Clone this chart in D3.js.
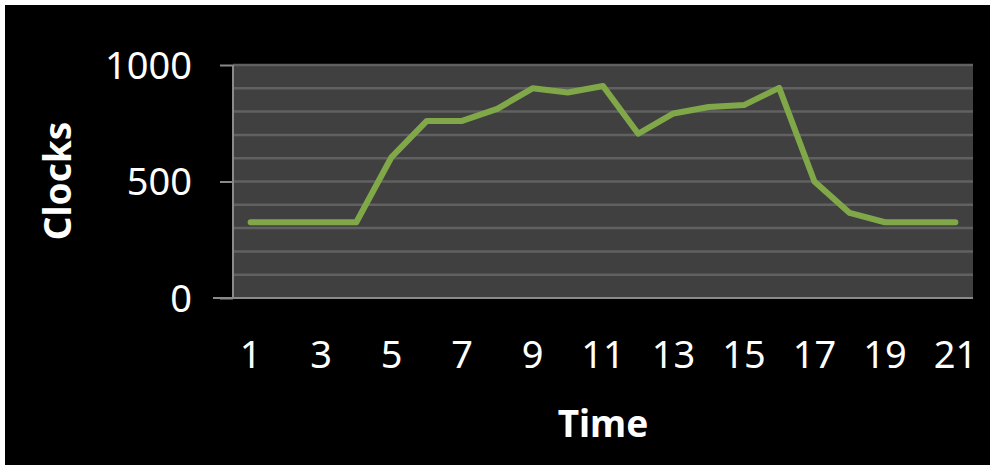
<!DOCTYPE html>
<html>
<head>
<meta charset="utf-8">
<script src="https://cdn.jsdelivr.net/npm/d3@7"></script>
<style>
  html, body { margin: 0; padding: 0; background: #fff; }
  svg { display: block; }
</style>
</head>
<body>
<svg id="chart"></svg>
<script>
// data
let times = d3.range(1, 22);
let clocks = [325, 325, 325, 325, 605, 760, 760, 812, 900, 882, 910, 705,
              792, 820, 828, 902, 500, 365, 325, 325, 325];
let xTickLabels = [1, 3, 5, 7, 9, 11, 13, 15, 17, 19, 21];
let yTickLabels = [0, 500, 1000];
let gridValues = d3.range(0, 1001, 100);

let svgWidth = 990, svgHeight = 465;
let margin = { top: 65, right: 17, bottom: 167, left: 233 };
let width = svgWidth - margin.left - margin.right;
let height = svgHeight - margin.top - margin.bottom;

let svg = d3.select('#chart')
    .attr('width', svgWidth)
    .attr('height', svgHeight);

// black card with a thin white edge on the top/left
svg.append('rect')
    .attr('x', 5).attr('y', 5)
    .attr('width', svgWidth - 5).attr('height', svgHeight - 5)
    .attr('fill', '#000');

let g = svg.append('g')
    .attr('transform', 'translate(' + margin.left + ',' + margin.top + ')');

let x = d3.scaleBand().domain(times).range([0, width]);
let y = d3.scaleLinear().domain([0, 1000]).range([height, 0]);

g.append('rect')
    .attr('width', width)
    .attr('height', height)
    .attr('fill', '#404040');

// gridlines
g.selectAll('.grid')
    .data(gridValues.slice(1))
    .enter()
    .append('line')
    .attr('x1', 0).attr('x2', width)
    .attr('y1', d => y(d)).attr('y2', d => y(d))
    .attr('stroke', '#616161')
    .attr('stroke-width', 2.5);

// y axis
let yAxis = g.append('g')
    .call(d3.axisLeft(y).tickValues(yTickLabels).tickFormat(d3.format('d'))
        .tickSize(13).tickPadding(28));
yAxis.select('.domain').attr('stroke', '#8a8a8a').attr('stroke-width', 2)
    .attr('d', 'M0,0V' + height);
yAxis.selectAll('.tick line').attr('stroke', '#8a8a8a').attr('stroke-width', 2);
yAxis.selectAll('text')
    .attr('fill', '#fff')
    .style('font-family', '"Noto Sans", sans-serif')
    .style('font-size', '38px')
    .attr('dy', '0.35em');

// x axis (no ticks, just the base line and labels)
let xAxis = g.append('g')
    .attr('transform', 'translate(0,' + height + ')')
    .call(d3.axisBottom(x).tickValues(xTickLabels).tickSize(0));
xAxis.select('.domain').attr('stroke', '#8a8a8a').attr('stroke-width', 2)
    .attr('d', 'M-20,0H' + width);
xAxis.selectAll('text')
    .attr('fill', '#fff')
    .style('font-family', '"Noto Sans", sans-serif')
    .style('font-size', '38px')
    .attr('dy', '0.35em')
    .attr('y', 57);

// the line
let line = d3.line()
    .x((d, i) => x(times[i]) + x.bandwidth() / 2)
    .y(d => y(d));

g.append('path')
    .datum(clocks)
    .attr('d', line)
    .attr('fill', 'none')
    .attr('stroke', '#80a848')
    .attr('stroke-width', 6)
    .attr('stroke-linejoin', 'round')
    .attr('stroke-linecap', 'round');

// axis titles
svg.append('text')
    .attr('transform', 'translate(71,181) rotate(-90)')
    .attr('text-anchor', 'middle')
    .attr('fill', '#fff')
    .style('font-family', '"Noto Sans", sans-serif')
    .style('font-weight', 'bold')
    .style('font-size', '37px')
    .text('Clocks');

svg.append('text')
    .attr('x', 603)
    .attr('y', 437)
    .attr('text-anchor', 'middle')
    .attr('fill', '#fff')
    .style('font-family', '"Noto Sans", sans-serif')
    .style('font-weight', 'bold')
    .style('font-size', '37px')
    .text('Time');
</script>
</body>
</html>
